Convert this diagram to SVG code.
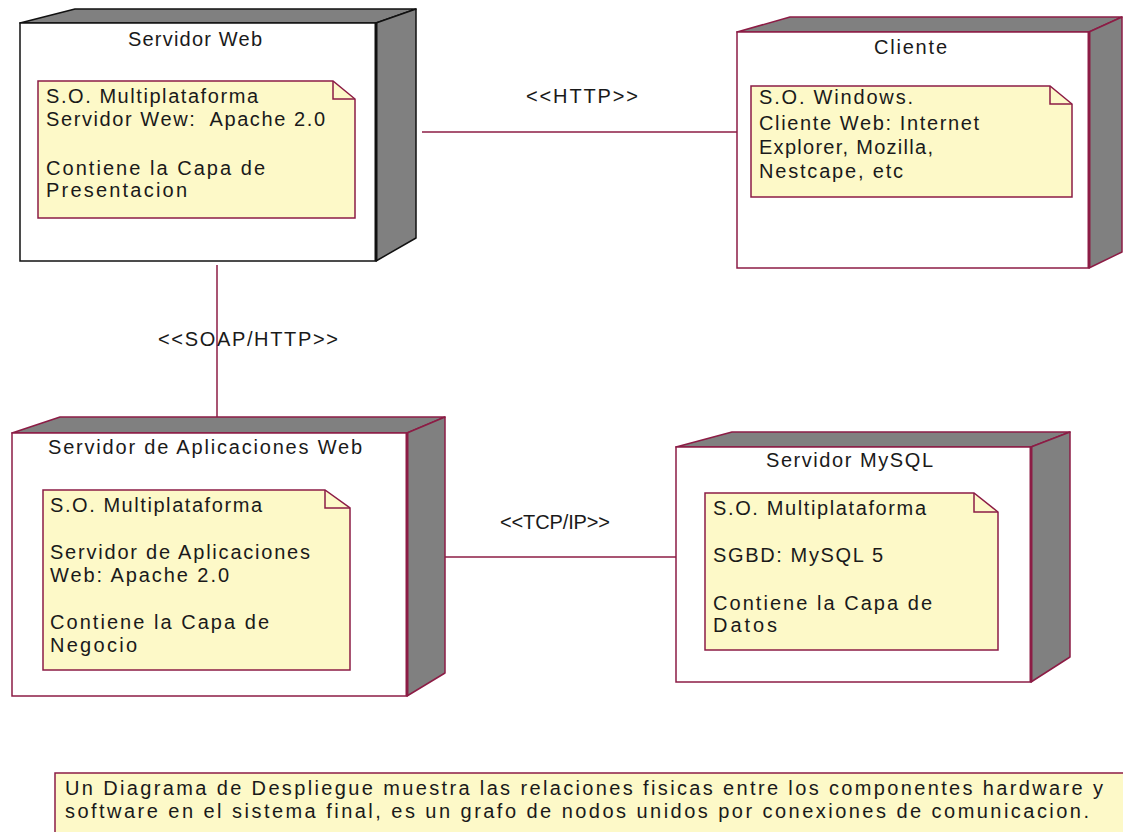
<svg xmlns="http://www.w3.org/2000/svg" width="1123" height="832" viewBox="0 0 1123 832">
  <style>
    text { font-family: "Liberation Sans", Arial, sans-serif; font-size: 20px; fill: #1a1a1a; white-space: pre; }
    .front { fill: #ffffff; stroke: #8c1c45; stroke-width: 1.5; }
    .side { fill: #808080; stroke: #8c1c45; stroke-width: 1.5; stroke-linejoin: round; }
    .edge { fill: none; stroke: #8c1c45; stroke-width: 3; }
    .black .front, .black .side { stroke: #111111; }
    .black .edge { stroke: #111111; }
    .note { fill: #fdf9c8; stroke: #8c1c45; stroke-width: 1.5; }
    .fold { fill: none; stroke: #8c1c45; stroke-width: 1.5; }
    .conn { stroke: #8c1c45; stroke-width: 1.5; fill: none; }
  </style>

  <rect width="1123" height="832" fill="#ffffff"/>

  <!-- communication paths -->
  <g id="connectors">
    <line class="conn" x1="422" y1="132" x2="737" y2="132"/>
    <text x="526" y="103" textLength="112" lengthAdjust="spacing">&lt;&lt;HTTP&gt;&gt;</text>
    <line class="conn" x1="217" y1="265" x2="217" y2="417"/>
    <text x="158" y="346" textLength="180" lengthAdjust="spacing">&lt;&lt;SOAP/HTTP&gt;&gt;</text>
    <line class="conn" x1="428" y1="557" x2="676" y2="557"/>
    <text x="500" y="529" textLength="110" lengthAdjust="spacing">&lt;&lt;TCP/IP&gt;&gt;</text>
  </g>

  <!-- web server node -->
  <g id="node-servidor-web" class="black">
    <polygon class="side" points="20,23 75,9 416,9 376,23"/>
    <polygon class="side" points="376,23 416,9 416,238 376,261"/>
    <rect class="front" x="20" y="23" width="356" height="238"/>
    <line class="edge" x1="376" y1="23" x2="376" y2="261"/>
    <text x="128" y="46" textLength="134" lengthAdjust="spacing">Servidor Web</text>
    <path class="note" d="M38,81 H333 L355,99 V218 H38 Z"/>
    <path class="fold" d="M333,81 V99 H355"/>
    <text x="46" y="103" textLength="212" lengthAdjust="spacing">S.O. Multiplataforma</text>
    <text x="46" y="126" textLength="279" lengthAdjust="spacing">Servidor Wew:  Apache 2.0</text>
    <text x="46" y="175" textLength="219" lengthAdjust="spacing">Contiene la Capa de</text>
    <text x="46" y="197" textLength="141" lengthAdjust="spacing">Presentacion</text>
  </g>

  <!-- client node -->
  <g id="node-cliente">
    <polygon class="side" points="737,32 790,17 1122,17 1089,32"/>
    <polygon class="side" points="1089,32 1122,17 1122,252 1089,268"/>
    <rect class="front" x="737" y="32" width="352" height="236"/>
    <line class="edge" x1="1089" y1="32" x2="1089" y2="268"/>
    <text x="874" y="54" textLength="73" lengthAdjust="spacing">Cliente</text>
    <path class="note" d="M751,86 H1050 L1072,104 V197 H751 Z"/>
    <path class="fold" d="M1050,86 V104 H1072"/>
    <text x="759" y="104" textLength="154" lengthAdjust="spacing">S.O. Windows.</text>
    <text x="759" y="130" textLength="220" lengthAdjust="spacing">Cliente Web: Internet</text>
    <text x="759" y="154" textLength="174" lengthAdjust="spacing">Explorer, Mozilla,</text>
    <text x="759" y="178" textLength="144" lengthAdjust="spacing">Nestcape, etc</text>
  </g>

  <!-- application server node -->
  <g id="node-servidor-aplicaciones">
    <polygon class="side" points="12,433 60,417 445,417 407,433"/>
    <polygon class="side" points="407,433 445,417 445,673 407,696"/>
    <rect class="front" x="12" y="433" width="395" height="263"/>
    <line class="edge" x1="407" y1="433" x2="407" y2="696"/>
    <text x="48" y="454" textLength="314" lengthAdjust="spacing">Servidor de Aplicaciones Web</text>
    <path class="note" d="M43,490 H325 L350,508 V670 H43 Z"/>
    <path class="fold" d="M325,490 V508 H350"/>
    <text x="50" y="512" textLength="212" lengthAdjust="spacing">S.O. Multiplataforma</text>
    <text x="50" y="559" textLength="260" lengthAdjust="spacing">Servidor de Aplicaciones</text>
    <text x="50" y="582" textLength="179" lengthAdjust="spacing">Web: Apache 2.0</text>
    <text x="50" y="629" textLength="219" lengthAdjust="spacing">Contiene la Capa de</text>
    <text x="50" y="652" textLength="87" lengthAdjust="spacing">Negocio</text>
  </g>

  <!-- database server node -->
  <g id="node-servidor-mysql">
    <polygon class="side" points="676,447 732,432 1070,432 1031,447"/>
    <polygon class="side" points="1031,447 1070,432 1070,657 1031,682"/>
    <rect class="front" x="676" y="447" width="355" height="235"/>
    <line class="edge" x1="1031" y1="447" x2="1031" y2="682"/>
    <text x="766" y="467" textLength="167" lengthAdjust="spacing">Servidor MySQL</text>
    <path class="note" d="M705,493 H974 L998,512 V650 H705 Z"/>
    <path class="fold" d="M974,493 V512 H998"/>
    <text x="713" y="515" textLength="213" lengthAdjust="spacing">S.O. Multiplataforma</text>
    <text x="713" y="562" textLength="170" lengthAdjust="spacing">SGBD: MySQL 5</text>
    <text x="713" y="610" textLength="219" lengthAdjust="spacing">Contiene la Capa de</text>
    <text x="713" y="632" textLength="64" lengthAdjust="spacing">Datos</text>
  </g>

  <!-- explanatory note -->
  <g id="note-descripcion">
    <rect class="note" x="55" y="773" width="1090" height="80"/>
    <text x="65" y="795" textLength="1038" lengthAdjust="spacing">Un Diagrama de Despliegue muestra las relaciones fisicas entre los componentes hardware y</text>
    <text x="65" y="818" textLength="1024" lengthAdjust="spacing">software en el sistema final, es un grafo de nodos unidos por conexiones de comunicacion.</text>
  </g>
</svg>
